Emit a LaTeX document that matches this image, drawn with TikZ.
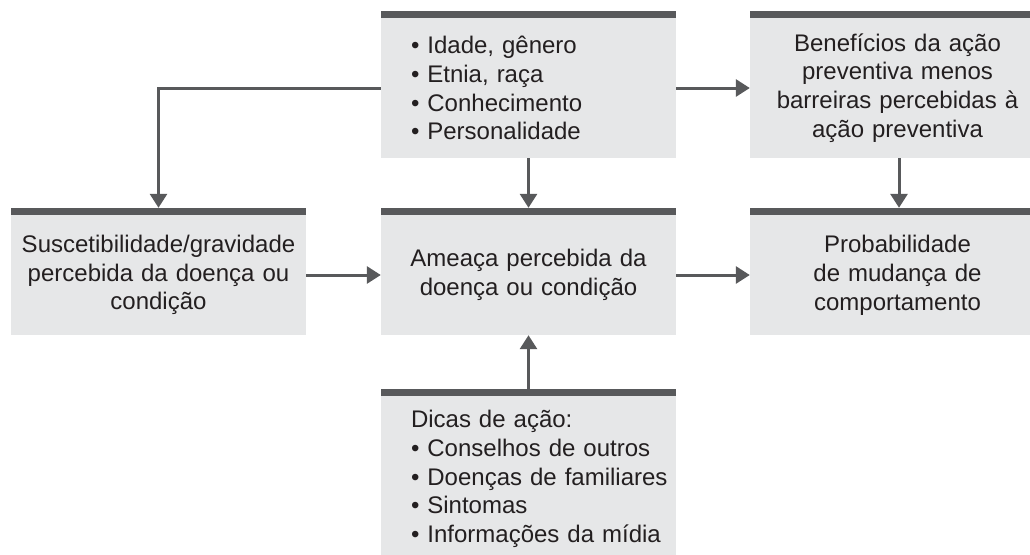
\documentclass[tikz,border=0pt]{standalone}
\usepackage{fontspec}
\setmainfont{Liberation Sans}
\usetikzlibrary{arrows.meta}
\definecolor{boxgray}{HTML}{E6E7E8}
\definecolor{bargray}{HTML}{58595B}
\definecolor{txtgray}{HTML}{231F20}

\tikzset{
	box/.style={fill=boxgray, minimum width=295pt, inner xsep=10pt, inner ysep=0pt,
		text width=275pt, align=center, text=txtgray,
		font=\fontsize{24pt}{28.8pt}\selectfont},
	listbox/.style={box, inner xsep=3pt, text width=289pt, align=left,
		execute at begin node={\leftskip=27pt\hyphenpenalty=10000}},
	conn/.style={draw=bargray, line width=3pt, -{Triangle[width=17pt,length=14pt]}}
}

\begin{document}
\begin{tikzpicture}[x=1pt, y=-1pt]

	\useasboundingbox (0,0) rectangle (1030,554);

	% top row
	\node[listbox, minimum height=140pt] (fatores) at (528.5,88) {• Idade, gênero\\• Etnia, raça\\• Conhecimento\\• Personalidade};
	\node[box, minimum height=140pt] (beneficios) at (897.5,88) {Benefícios da ação\\preventiva menos\\barreiras percebidas à\\ação preventiva};

	% middle row
	\node[box, minimum height=120pt] (suscet) at (158.5,275) {Suscetibilidade/gravidade\\percebida da doença ou\\condição};
	\node[box, minimum height=120pt] (ameaca) at (528.5,275) {Ameaça percebida da\\doença ou condição};
	\node[box, minimum height=120pt] (prob) at (897.5,275) {Probabilidade\\de mudança de\\comportamento};

	% bottom
	\node[listbox, minimum height=166pt] (dicas) at (528.5,479) {Dicas de ação:\\• Conselhos de outros\\• Doenças de familiares\\• Sintomas\\• Informações da mídia};

	% dark bars on top of the boxes
	\foreach \n in {fatores,beneficios,suscet,ameaca,prob,dicas}
		\fill[bargray] (\n.north west) rectangle ([yshift=7pt]\n.north east);

	\draw[conn] (fatores.west) -| ([yshift=7pt]suscet.north);
	\draw[conn] (fatores.east) -- (beneficios.west);
	\draw[conn] (fatores.south) -- ([yshift=7pt]ameaca.north);
	\draw[conn] ([xshift=1.5pt]beneficios.south) -- ([xshift=1.5pt,yshift=7pt]prob.north);
	\draw[conn] (suscet.east) -- (ameaca.west);
	\draw[conn] (ameaca.east) -- (prob.west);
	\draw[conn] (dicas.north) -- (ameaca.south);

\end{tikzpicture}
\end{document}
